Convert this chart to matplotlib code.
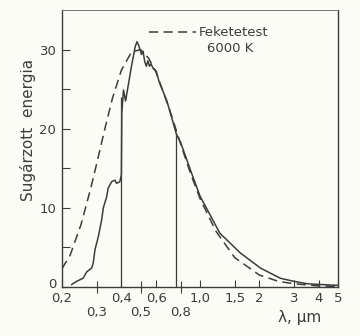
import matplotlib
matplotlib.use("Agg")
import matplotlib.pyplot as plt
from matplotlib.ticker import FixedLocator, FixedFormatter
from matplotlib.transforms import ScaledTranslation

# Measured solar spectrum (solid line)
sun_wl = [0.224, 0.237, 0.256, 0.267, 0.283, 0.288, 0.294, 0.306, 0.318, 0.324,
          0.337, 0.343, 0.357, 0.371, 0.378, 0.393, 0.400, 0.402, 0.41, 0.42,
          0.43, 0.45, 0.47, 0.48, 0.49, 0.50, 0.506, 0.515, 0.525, 0.535,
          0.545, 0.555, 0.565, 0.58, 0.60, 0.62, 0.68, 0.76, 0.8, 0.9,
          1.0, 1.26, 1.6, 2.02, 2.55, 3.0, 3.5, 4.5, 5.0]
sun_e = [0.3, 0.7, 1.1, 1.9, 2.4, 3.0, 4.7, 6.4, 8.5, 10.0,
         11.4, 12.5, 13.3, 13.5, 13.1, 13.3, 14.2, 22.0, 24.9, 23.5,
         25.0, 27.9, 30.4, 31.0, 30.5, 29.8, 29.4, 29.8, 28.5, 27.9,
         28.6, 27.9, 28.2, 27.6, 27.3, 26.0, 23.5, 19.3, 18.2, 14.6,
         11.5, 6.8, 4.3, 2.4, 1.1, 0.7, 0.4, 0.25, 0.2]

# Black body 6000 K (dashed line)
bb_wl = [0.2, 0.22, 0.25, 0.28, 0.3, 0.33, 0.36, 0.4, 0.45, 0.5, 0.55, 0.6,
         0.7, 0.8, 0.9, 1.0, 1.2, 1.5, 2.0, 2.5, 3.0, 4.0, 5.0]
bb_e = [2.3, 4.0, 7.9, 12.5, 15.6, 20.0, 23.8, 27.4, 29.7, 30.0, 28.9, 27.1,
        22.5, 18.0, 14.2, 11.2, 7.1, 3.7, 1.5, 0.7, 0.4, 0.13, 0.06]

# visible band limits
band_wl = [0.4, 0.76]
band_top = [24.0, 19.3]

major_ticks = [0.2, 0.4, 0.6, 1.0, 1.5, 2, 3, 4, 5]
major_labels = ["0,2", "0,4", "0,6", "1,0", "1,5", "2", "3", "4", "5"]
minor_ticks = [0.3, 0.5, 0.8]
minor_labels = ["0,3", "0,5", "0,8"]

ink = "#3c3c3c"
paper = "#fcfcf6"

plt.rcParams["font.family"] = "DejaVu Sans"
fig, ax = plt.subplots(figsize=(3.6, 3.36), dpi=100)
fig.patch.set_facecolor(paper)
ax.set_facecolor(paper)
fig.subplots_adjust(left=0.172, right=0.939, bottom=0.146, top=0.970)

ax.plot(sun_wl, sun_e, color=ink, lw=1.1)
ax.plot(bb_wl, bb_e, color=ink, lw=1.1, dashes=(6, 3.5), label="Feketetest")
ax.vlines(band_wl, 0, band_top, color=ink, lw=0.9)

ax.set_xscale("log")
ax.set_xlim(0.2, 5)
ax.set_ylim(0, 35)

ax.xaxis.set_major_locator(FixedLocator(major_ticks))
ax.xaxis.set_major_formatter(FixedFormatter(major_labels))
ax.xaxis.set_minor_locator(FixedLocator(minor_ticks))
ax.xaxis.set_minor_formatter(FixedFormatter(minor_labels))
ax.tick_params(axis="x", which="major", direction="in", length=5, width=0.8,
               pad=4, labelsize=9.5, colors=ink)
ax.tick_params(axis="x", which="minor", direction="inout", length=8, width=0.8,
               pad=10, labelsize=9.5, colors=ink)

ax.set_yticks([0, 10, 20, 30])
ax.set_yticks([5, 15, 25], minor=True)
ax.tick_params(axis="y", which="both", direction="in", length=6, width=0.8,
               pad=4, labelsize=9.5, colors=ink)

# lift the "0" label a little so it clears the "0,2" label below it
fig.canvas.draw()
zero_lbl = ax.yaxis.get_majorticklabels()[0]
zero_lbl.set_transform(zero_lbl.get_transform()
                       + ScaledTranslation(0, 3 / 72, fig.dpi_scale_trans))

for s in ax.spines.values():
    s.set_color(ink)
    s.set_linewidth(1.0)
ax.spines["top"].set_color("#777777")
ax.spines["top"].set_linewidth(0.7)

ax.set_ylabel("Sugárzott  energia", fontsize=11, color=ink)
ax.yaxis.set_label_coords(-0.095, 0.567)
ax.set_xlabel("λ, µm", fontsize=11, color=ink)
ax.xaxis.set_label_coords(0.86, -0.085)

leg = ax.legend(loc="upper right", bbox_to_anchor=(0.77, 0.965), frameon=False,
                borderpad=0, handlelength=3.5, handletextpad=0.2,
                fontsize=9.5, labelcolor=ink)
ax.text(0.609, 0.862, "6000 K", transform=ax.transAxes, ha="center",
        va="center", fontsize=9.5, color=ink)

fig.savefig("out.png", dpi=100, facecolor=paper)
